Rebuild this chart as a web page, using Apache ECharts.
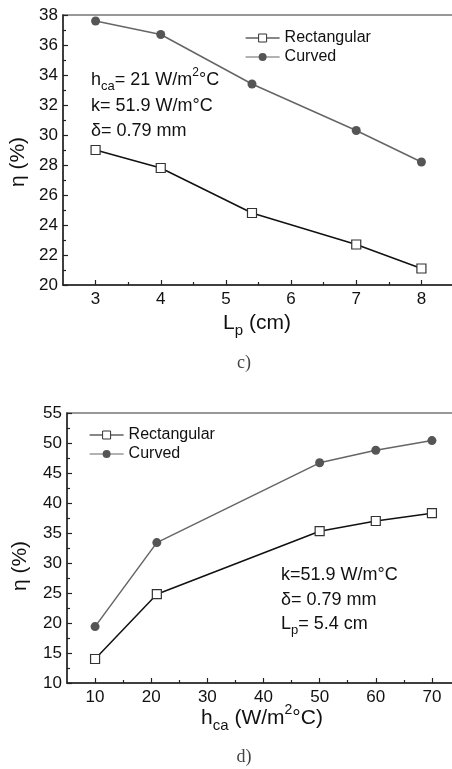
<!DOCTYPE html>
<html>
<head>
<meta charset="utf-8">
<script src="https://cdn.jsdelivr.net/npm/echarts@6/dist/echarts.min.js"></script>
<style>
html, body { margin: 0; padding: 0; background: #fff; }
#main { width: 452px; height: 769px; }
</style>
</head>
<body>
<div id="main"></div>
<script>
// panel c) : efficiency vs Lp
var lpValues = [3, 4, 5.4, 7, 8];
var rectC = [29.0, 27.8, 24.8, 22.7, 21.1];
var curvedC = [37.6, 36.7, 33.4, 30.3, 28.2];
var lpTicks = [3, 4, 5, 6, 7, 8];
var lpMinor = [3.5, 4.5, 5.5, 6.5, 7.5];

// panel d) : efficiency vs hca
var hcaValues = [10, 21, 50, 60, 70];
var rectD = [14.0, 24.8, 35.3, 37.0, 38.3];
var curvedD = [19.4, 33.4, 46.7, 48.8, 50.4];
var hcaTicks = [10, 20, 30, 40, 50, 60, 70];
var hcaMinor = [15, 25, 35, 45, 55, 65];

var FONT = '"Liberation Sans", Arial, sans-serif';
var SERIF = '"Liberation Serif", "DejaVu Serif", serif';
var AXIS_COLOR = '#222';

function pairs(xs, ys) {
    var out = [];
    for (var i = 0; i < xs.length; i++) {
        out.push([xs[i], ys[i]]);
    }
    return out;
}

function majorX(grid, min, max, ticks) {
    return {
        type: 'value', gridIndex: grid, min: min, max: max, position: 'bottom',
        axisLine: {show: true, onZero: false, lineStyle: {color: AXIS_COLOR, width: 1.5}},
        axisTick: {show: true, inside: true, length: 5, customValues: ticks, lineStyle: {color: AXIS_COLOR, width: 1.2}},
        axisLabel: {customValues: ticks, margin: 6, fontSize: 17, color: '#111', fontFamily: FONT},
        splitLine: {show: false}
    };
}

function minorX(grid, min, max, ticks) {
    return {
        type: 'value', gridIndex: grid, min: min, max: max, position: 'bottom',
        axisLine: {show: false, onZero: false},
        axisTick: {show: true, inside: true, length: 3, customValues: ticks, lineStyle: {color: AXIS_COLOR, width: 1.2}},
        axisLabel: {show: false},
        splitLine: {show: false}
    };
}

function valueY(grid, min, max, interval) {
    return {
        type: 'value', gridIndex: grid, min: min, max: max, interval: interval,
        axisLine: {show: true, onZero: false, lineStyle: {color: AXIS_COLOR, width: 1.5}},
        axisTick: {show: true, inside: true, length: 5, lineStyle: {color: AXIS_COLOR, width: 1.2}},
        minorTick: {show: true, splitNumber: 2, length: 3, lineStyle: {color: AXIS_COLOR, width: 1.2}},
        axisLabel: {margin: 5, fontSize: 17, color: '#111', fontFamily: FONT},
        splitLine: {show: false}
    };
}

function rectSeries(xIdx, yIdx, data) {
    return {
        name: 'Rectangular', type: 'line', xAxisIndex: xIdx, yAxisIndex: yIdx, data: data,
        symbol: 'rect', symbolSize: 9, z: 3,
        lineStyle: {color: '#111', width: 1.5},
        itemStyle: {color: '#fff', borderColor: '#333', borderWidth: 1.2}
    };
}

function curvedSeries(xIdx, yIdx, data) {
    return {
        name: 'Curved', type: 'line', xAxisIndex: xIdx, yAxisIndex: yIdx, data: data,
        symbol: 'circle', symbolSize: 9, z: 3,
        lineStyle: {color: '#666', width: 1.5},
        itemStyle: {color: '#555'}
    };
}

function legendAt(left, top) {
    return {
        data: ['Rectangular', 'Curved'], orient: 'vertical', left: left, top: top,
        itemWidth: 34, itemHeight: 10, itemGap: 3, selectedMode: false,
        lineStyle: {width: 1.2},
        itemStyle: {borderWidth: 1},
        textStyle: {fontSize: 16, color: '#111', fontFamily: FONT}
    };
}

var rich = {
    n: {fontSize: 18, fontFamily: FONT, color: '#111', lineHeight: 26},
    s: {fontSize: 13, fontFamily: FONT, color: '#111', lineHeight: 13, verticalAlign: 'bottom'},
    p: {fontSize: 12, fontFamily: FONT, color: '#111', lineHeight: 12, verticalAlign: 'top'},
    t: {fontSize: 21, fontFamily: FONT, color: '#111', lineHeight: 30},
    ts: {fontSize: 15, fontFamily: FONT, color: '#111', lineHeight: 14, verticalAlign: 'bottom'},
    tp: {fontSize: 14, fontFamily: FONT, color: '#111', lineHeight: 14, verticalAlign: 'top'}
};

function label(x, y, text, align, rotation) {
    return {
        type: 'text', x: x, y: y, rotation: rotation || 0, z: 10,
        style: {text: text, rich: rich, align: align || 'left', verticalAlign: 'middle',
                font: '18px ' + FONT, fill: '#111'}
    };
}

function caption(x, y, text) {
    return {
        type: 'text', x: x, y: y, z: 10,
        style: {text: text, align: 'center', verticalAlign: 'middle',
                font: '18px ' + SERIF, fill: '#444'}
    };
}

var myChart = echarts.init(document.getElementById('main'));
myChart.setOption({
    backgroundColor: '#fff',
    animation: false,
    grid: [
        {left: 63, top: 15, width: 391, height: 270, outerBoundsMode: 'none', containLabel: false,
         show: true, borderColor: '#777', borderWidth: 1.5, backgroundColor: 'transparent'},
        {left: 67, top: 413, width: 393, height: 270, outerBoundsMode: 'none', containLabel: false,
         show: true, borderColor: '#777', borderWidth: 1.5, backgroundColor: 'transparent'}
    ],
    legend: [legendAt(240, 25), legendAt(84, 422)],
    xAxis: [
        majorX(0, 2.5, 8.5, lpTicks),
        minorX(0, 2.5, 8.5, lpMinor),
        majorX(1, 5, 75, hcaTicks),
        minorX(1, 5, 75, hcaMinor)
    ],
    yAxis: [
        valueY(0, 20, 38, 2),
        valueY(1, 10, 55, 5)
    ],
    series: [
        rectSeries(0, 0, pairs(lpValues, rectC)),
        curvedSeries(0, 0, pairs(lpValues, curvedC)),
        rectSeries(2, 1, pairs(hcaValues, rectD)),
        curvedSeries(2, 1, pairs(hcaValues, curvedD))
    ],
    graphic: [
        label(91, 80, '{n|h}{s|ca}{n|= 21 W/m}{p|2}{n|°C}'),
        label(91, 106, '{n|k= 51.9 W/m°C}'),
        label(91, 131, '{n|δ= 0.79 mm}'),
        label(281, 575, '{n|k=51.9 W/m°C}'),
        label(281, 600, '{n|δ= 0.79 mm}'),
        label(281, 624, '{n|L}{s|p}{n|= 5.4 cm}'),
        label(257, 323, '{t|L}{ts|p}{t| (cm)}', 'center'),
        label(262, 718, '{t|h}{ts|ca}{t| (W/m}{tp|2}{t|°C)}', 'center'),
        label(18, 162, '{t|η (%)}', 'center', Math.PI / 2),
        label(20, 566, '{t|η (%)}', 'center', Math.PI / 2),
        caption(244, 363, 'c)'),
        caption(244, 757, 'd)')
    ]
});
</script>
</body>
</html>
